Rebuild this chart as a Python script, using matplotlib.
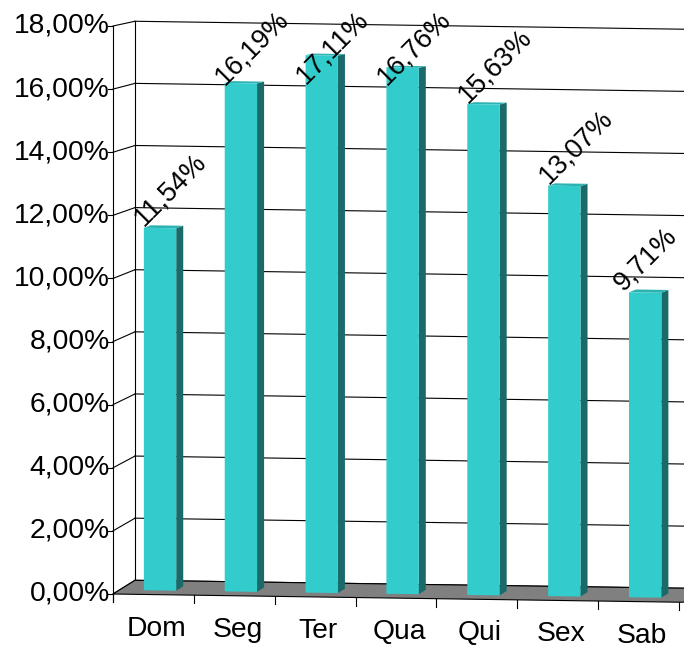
#!/usr/bin/env python3

"""
Share of records per weekday, drawn as a flat copy of an Excel 3-D column chart
"""

import numpy as np
import matplotlib
matplotlib.use('Agg')
import matplotlib.pyplot as plt
from matplotlib.patches import Polygon
from matplotlib.lines import Line2D
from matplotlib.transforms import Affine2D, IdentityTransform

days = ['Dom', 'Seg', 'Ter', 'Qua', 'Qui', 'Sex', 'Sab']
shares = [11.54, 16.19, 17.11, 16.76, 15.63, 13.07, 9.71]
y_ticks = [0, 2, 4, 6, 8, 10, 12, 14, 16, 18]

W, H = 684, 649
FRONT = '#33cccc'
SIDE = '#1b6a6a'
TOP = '#2db1b1'
FLOOR = '#808080'

plt.rcParams['font.family'] = ['Liberation Sans', 'DejaVu Sans']
plt.rcParams['font.size'] = 20.3

fig = plt.figure(figsize=(W / 100, H / 100), dpi=100)
ax = fig.add_axes([113 / W, 55 / H, 566 / W, 568 / H])
ax.set_xlim(0, len(days))
ax.set_ylim(0, y_ticks[-1])
ax.axis('off')


def depth_tr(d):
    # back wall sits to the right and a bit higher, slightly squeezed
    return Affine2D(np.array([[1, 0, 22 * d],
                              [0, 1 - 0.0158 * d, 14.9 * d],
                              [0, 0, 1]]))


# the whole chart leans down to the right
shear = Affine2D(np.array([[1, 0, 0],
                           [-0.0145, 1, 0.0145 * 113],
                           [0, 0, 1]]))


def to_px(c, v, d):
    return (ax.transData + depth_tr(d) + shear).transform([[c, v]])[0]


def face(pts, **kw):
    xy = np.array([to_px(c, v, d) for c, v, d in pts])
    fig.add_artist(Polygon(xy, closed=True, transform=IdentityTransform(), **kw))


def line(xy, **kw):
    xy = np.asarray(xy)
    kw.setdefault('color', 'black')
    kw.setdefault('lw', 0.8)
    fig.add_artist(Line2D(xy[:, 0], xy[:, 1], transform=IdentityTransform(), **kw))


def fmt(v):
    return '{:.2f}%'.format(v).replace('.', ',')


n = len(days)

# walls and gridlines
for v in y_ticks:
    line([to_px(0, v, 1), to_px(n + 0.3, v, 1)], zorder=1)
    line([to_px(0, v, 0), to_px(0, v, 1)], zorder=1)
    p = to_px(0, v, 0)
    line([p - [5, 0], p], zorder=1)
    fig.text(p[0] - 3, p[1], fmt(v), ha='right', va='center',
             transform=IdentityTransform())
line([to_px(0, 0, 1), to_px(0, y_ticks[-1], 1)], zorder=1)

# floor
face([(0, 0, 0), (n + 0.05, 0, 0), (n + 0.05, 0, 1), (0, 0, 1)],
     fc=FLOOR, ec='black', lw=0.8, zorder=2)
line([to_px(0, 0, 0) - [0, 8], to_px(0, y_ticks[-1], 0)], zorder=2)

# category ticks and labels
for c in range(n + 1):
    p = to_px(c, 0, 0)
    line([p, p - [0, 8]], zorder=2)
for i, day in enumerate(days):
    p = to_px(i + 0.5, 0, 0)
    fig.text(p[0] + 3, p[1] - 34, day, ha='center', va='center',
             transform=IdentityTransform())

# bars
d1, d2 = 0.3, 0.62
renderer = fig.canvas.get_renderer()
for i, v in enumerate(shares):
    c0, c1 = i + 0.3, i + 0.7
    face([(c1, 0, d1), (c1, 0, d2), (c1, v, d2), (c1, v, d1)],
         fc=SIDE, ec='none', zorder=3)
    face([(c0, v, d1), (c1, v, d1), (c1, v, d2), (c0, v, d2)],
         fc=TOP, ec='none', zorder=3)
    face([(c0, 0, d1), (c1, 0, d1), (c1, v, d1), (c0, v, d1)],
         fc=FRONT, ec='none', zorder=3)

    # value label starts at the bar's top-left, kept inside the chart area
    p = to_px(c0, v, d1) + [0, 1]
    t = fig.text(p[0], p[1], fmt(v), rotation=45, rotation_mode='anchor',
                 ha='left', va='baseline', fontsize=19.5,
                 transform=IdentityTransform(), zorder=4)
    bb = t.get_window_extent(renderer)
    x, y = p
    if bb.y1 > H - 6:
        y -= bb.y1 - (H - 6)
    if bb.x1 > W - 2:
        x -= bb.x1 - (W - 2)
    t.set_position((x, y))

fig.savefig('out.png', dpi=100)
